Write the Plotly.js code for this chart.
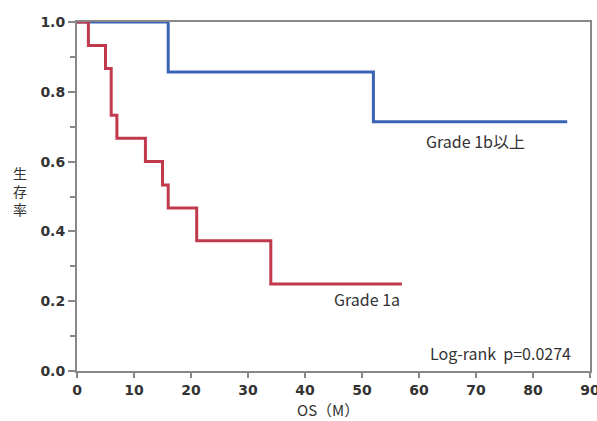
<!DOCTYPE html>
<html>
<head>
<meta charset="utf-8">
<script src="https://cdn.plot.ly/plotly-3.0.1.min.js"></script>
<style>html,body{margin:0;padding:0;background:#fff;overflow:hidden;}#chart{width:597px;height:421px;}</style>
</head>
<body>
<div id="chart"></div>
<script>
// Grade 1a (red)
const timeA = [0, 2, 5, 6, 7, 12, 15, 16, 21, 34, 57];
const survA = [1.0, 0.933, 0.867, 0.733, 0.667, 0.600, 0.533, 0.467, 0.373, 0.249, 0.249];
// Grade 1b以上 (blue)
const timeB = [0, 16, 52, 86];
const survB = [1.0, 0.857, 0.714, 0.714];

const xTicks = [0, 10, 20, 30, 40, 50, 60, 70, 80, 90];
const yTicks = [0.0, 0.2, 0.4, 0.6, 0.8, 1.0];
const yTickText = ['0.0', '0.2', '0.4', '0.6', '0.8', '1.0'];

const labelA = 'Grade 1a';
const labelB = 'Grade 1b以上';
const pText = 'Log-rank  p=0.0274';
const xTitle = 'OS（M）';
const yTitleChars = ['生', '存', '率'];

const jpFont = '"Noto Sans CJK JP", "Noto Sans", sans-serif';

const traces = [
  {x: timeB, y: survB, mode: 'lines', line: {shape: 'hv', color: '#3a63b5', width: 3}, hoverinfo: 'skip'},
  {x: timeA, y: survA, mode: 'lines', line: {shape: 'hv', color: '#c0394c', width: 3}, hoverinfo: 'skip'}
];

const pl = 77, pt = 22, pr = 7, pb = 50;
const pw = 597 - pl - pr, ph = 421 - pt - pb;
function px(xp, yp) { return {x: (xp - pl) / pw, y: 1 - (yp - pt) / ph}; }

const annotations = [
  Object.assign(px(475, 141), {text: labelB, size: 16}),
  Object.assign(px(367, 299), {text: labelA, size: 16}),
  Object.assign(px(500, 353), {text: pText, size: 16}),
  Object.assign(px(328, 409.5), {text: xTitle, size: 15}),
  Object.assign(px(20, 191), {text: yTitleChars.join('<br>'), size: 14})
].map(a => ({
  x: a.x, y: a.y, xref: 'paper', yref: 'paper', text: a.text, showarrow: false,
  xanchor: 'center', yanchor: 'middle',
  font: {family: jpFont, size: a.size, color: '#333'}
}));

const tickFont = {family: '"DejaVu Sans", sans-serif', size: 14, color: '#333', weight: 'bold'};

const layout = {
  width: 597, height: 421,
  margin: {l: pl, r: pr, t: pt, b: pb},
  paper_bgcolor: '#fff', plot_bgcolor: '#fff',
  showlegend: false,
  xaxis: {
    range: [0, 90], tickvals: xTicks, ticktext: xTicks.map(String),
    showgrid: false, zeroline: false, automargin: false,
    showline: true, linecolor: '#888', linewidth: 2, mirror: true,
    ticks: 'outside', ticklen: 5, tickwidth: 2, tickcolor: '#888',
    ticklabeloverflow: 'allow',
    tickfont: tickFont
  },
  yaxis: {
    range: [0, 1], tickvals: yTicks, ticktext: yTickText,
    showgrid: false, zeroline: false, automargin: false,
    showline: true, linecolor: '#888', linewidth: 2, mirror: true,
    ticks: 'outside', ticklen: 7, tickwidth: 2, tickcolor: '#888',
    minor: {dtick: 0.1, ticks: 'outside', ticklen: 5, tickwidth: 2, tickcolor: '#888', showgrid: false},
    tickfont: tickFont
  },
  annotations: annotations
};

Plotly.newPlot('chart', traces, layout, {staticPlot: true, displayModeBar: false});
</script>
</body>
</html>
